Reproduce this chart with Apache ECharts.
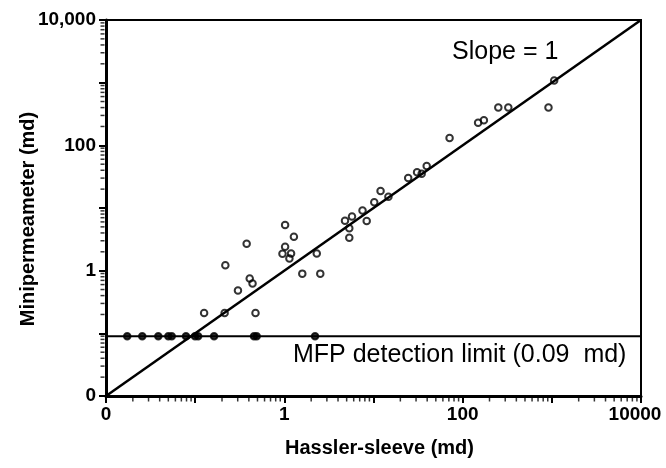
<!DOCTYPE html>
<html>
<head>
<meta charset="utf-8">
<script src="https://cdn.jsdelivr.net/npm/echarts@6/dist/echarts.min.js"></script>
<style>
html,body{margin:0;padding:0;background:#fff;}
#chart{width:666px;height:468px;}
</style>
</head>
<body>
<div id="chart"></div>
<script>
// ---- data (md) ----
const hasslerSleeve = [0.126, 0.214, 0.475, 0.302, 0.409, 0.440, 0.218, 0.378, 1.02, 1.28, 1.02, 0.953, 1.19, 1.14, 1.59, 2.53, 2.31, 4.79, 5.35, 5.35, 5.74, 7.53, 8.39, 10.2, 12.0, 14.7, 24.5, 30.8, 34.7, 39.5, 71.3, 149, 173, 251, 325, 917, 1062];
const minipermeameter = [0.212, 0.212, 0.212, 0.484, 0.753, 0.622, 1.22, 2.70, 5.34, 3.49, 2.41, 1.86, 1.88, 1.56, 0.897, 0.897, 1.88, 6.26, 4.74, 3.34, 7.31, 9.12, 6.19, 12.4, 18.7, 15.1, 30.1, 37.1, 35.1, 46.7, 131, 229, 252, 402, 402, 400, 1083];
const belowLimitHassler = [0.0173, 0.0255, 0.0386, 0.050, 0.0546, 0.0789, 0.0996, 0.108, 0.163, 0.457, 0.490, 2.21];
const detectionLimit = 0.09;
const axisRange = [0.01, 10000];
const xTickLabels = {"-2": "0", "0": "1", "2": "100", "4": "10000"};
const yTickLabels = {"-2": "0", "0": "1", "2": "100", "4": "10,000"};
const minorTicks = [];
for (let e = -2; e < 4; e++) for (let m = 2; m <= 9; m++) minorTicks.push(+(m * Math.pow(10, e)).toPrecision(3));

const FONT = "'Liberation Sans', Arial, Helvetica, sans-serif";
const exp = v => String(Math.round(Math.log10(v)));

const pts = hasslerSleeve.map((x, i) => [x, minipermeameter[i]]);
const limitPts = belowLimitHassler.map(x => [x, detectionLimit]);
const xMinorTickPts = minorTicks.map(v => [v, axisRange[0]]);
const yMinorTickPts = minorTicks.map(v => [axisRange[0], v]);

function mainAxis(kind, labels) {
  const isX = kind === 'x';
  return {
    type: 'log', logBase: 10, min: axisRange[0], max: axisRange[1],
    splitLine: {show: false}, minorTick: {show: false}, minorSplitLine: {show: false},
    position: isX ? 'bottom' : 'left',
    axisLine: {show: true, lineStyle: {color: '#000', width: 3}},
    axisTick: {show: true, inside: false, length: 7, lineStyle: {color: '#000', width: 2}},
    axisLabel: {
      show: true, margin: isX ? 9 : 10,
      color: '#000', fontFamily: FONT, fontWeight: 'bold', fontSize: 19,
      formatter: v => (isX && exp(v) === '4') ? '{r|' + labels[exp(v)] + '}' : (labels[exp(v)] || ''),
      rich: {r: {fontFamily: FONT, fontWeight: 'bold', fontSize: 19, color: '#000', padding: [0, 12, 0, 0]}}
    },
    name: isX ? 'Hassler-sleeve (md)' : 'Minipermeameter (md)',
    nameLocation: 'middle',
    nameMoveOverlap: false,
    nameGap: isX ? 42 : 68,
    nameTextStyle: {color: '#000', fontFamily: FONT, fontWeight: 'bold', fontSize: 20,
      padding: isX ? [0, 0, 0, 12] : [0, 0, 0, -22]}
  };
}

const chart = echarts.init(document.getElementById('chart'), null, {renderer: 'canvas'});
chart.setOption({
  backgroundColor: '#fff',
  animation: false,
  grid: {left: 106, right: 25, top: 20, bottom: 72, show: true, borderColor: '#000', borderWidth: 2, backgroundColor: 'transparent'},
  xAxis: mainAxis('x', xTickLabels),
  yAxis: mainAxis('y', yTickLabels),
  series: [
    {type: 'line', name: 'Slope = 1',
      data: [[axisRange[0], axisRange[0]], [axisRange[1], axisRange[1]]],
      symbol: 'none', lineStyle: {color: '#000', width: 2.5}, z: 2},
    {type: 'line', name: 'MFP detection limit',
      data: [[axisRange[0], detectionLimit], [axisRange[1], detectionLimit]],
      symbol: 'none', lineStyle: {color: '#000', width: 2}, z: 2},
    {type: 'scatter', data: pts, symbol: 'circle', symbolSize: 6.5,
      itemStyle: {color: 'transparent', borderColor: '#000', borderWidth: 2}, z: 3},
    {type: 'scatter', data: limitPts, symbol: 'circle', symbolSize: 6.5,
      itemStyle: {color: '#000', borderColor: '#000', borderWidth: 2}, z: 3},
    // minor log ticks (2..9 per decade) placed through the axes' own scales
    {type: 'scatter', name: 'x minor ticks', data: xMinorTickPts, clip: false, silent: true,
      symbol: 'rect', symbolSize: [1.5, 4], symbolOffset: [0, 3.5],
      itemStyle: {color: '#000'}, z: 1},
    {type: 'scatter', name: 'y minor ticks', data: yMinorTickPts, clip: false, silent: true,
      symbol: 'rect', symbolSize: [4, 1.5], symbolOffset: [-3.5, 0],
      itemStyle: {color: '#000'}, z: 1}
  ],
  graphic: [
    {type: 'text', left: 452, top: 40, style: {text: 'Slope = 1', font: "25px " + FONT, fill: '#000'}},
    {type: 'text', left: 293, top: 343, style: {text: 'MFP detection limit (0.09  md)', font: "25px " + FONT, fill: '#000'}}
  ]
});
</script>
</body>
</html>
